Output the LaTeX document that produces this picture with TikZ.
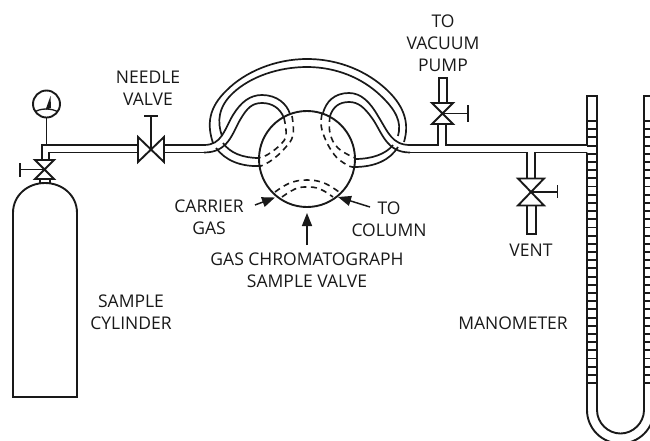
\documentclass[tikz,border=0pt]{standalone}
\usepackage{fontspec}
\setmainfont{Open Sans}
\usetikzlibrary{arrows.meta}
\tikzset{
  ln/.style={line width=1.9pt,black!90,line join=miter},
  tb/.style={line width=1.7pt,black!90},
  dsh/.style={line width=1.6pt,black!90,dash pattern=on 6pt off 4.5pt},
  arw/.style={line width=1.5pt,black!90,-{Triangle[length=13pt,width=10pt]}},
  lbl/.style={font=\fontsize{17.5}{22}\selectfont,text=black!90,inner sep=0pt,align=center},
}
\newcommand{\vvalve}[4]{% x y halfw halfh
  \draw[ln] (#1-#3,#2-#4)--(#1+#3,#2-#4)--(#1-#3,#2+#4)--(#1+#3,#2+#4)--cycle;}
\begin{document}
\begin{tikzpicture}[x=1pt,y=-1pt]
\useasboundingbox (0,0) rectangle (650,440);
\clip (0,0) rectangle (650,440);
% cylinder
\draw[ln] (13,397) -- (13,213) .. controls (13,195) and (28,183) .. (45,183) .. controls (62,183) and (77,195) .. (77,213) -- (77,397) -- cycle;
\draw[ln] (40,179) -- (40,183) (50,179) -- (50,183);
% cylinder valve
\vvalve{44.5}{169.5}{9.5}{9.5}
\draw[ln] (44.5,169.5) -- (20,169.5) (20,163) -- (20,177);
% gauge
\node[circle,draw,line width=1.9pt,black!90,minimum size=27pt,inner sep=0pt] (gauge) at (46.5,104) {};
\fill[black!90] (50.5,96) -- (45.5,110) -- (51,108) -- cycle;
\draw[line width=1.3pt,black!90] (35,112) .. controls (40,108) and (52,108) .. (58,112);
\draw[ln] (gauge.south) -- (46.5,145);
% left pipe
\draw[ln] (42,160) -- (42,145) -- (138,145);
\draw[ln] (49,160) -- (49,152.5) -- (138,152.5);
% needle valve
\draw[ln] (138,137) -- (164,162) -- (164,137) -- (138,162) -- cycle;
\draw[ln] (151,149.5) -- (151,116) (144,116) -- (158,116);
\draw[ln] (164,145) -- (204,145) (164,152.5) -- (204,152.5);
% sample valve body
\node[circle,draw,line width=1.9pt,black!90,minimum size=96pt,inner sep=0pt] (sv) at (307,159) {};
% big loop
\draw[tb] (213,143) .. controls (207,125) and (208,108) .. (227,90) .. controls (245,72) and (275,59) .. (307,59) .. controls (340,59) and (368,72) .. (387,90) .. controls (406,108) and (409,125) .. (404,142);
\draw[tb] (222,136) .. controls (217,122) and (218,107) .. (233,93) .. controls (250,77) and (278,67) .. (307,67) .. controls (336,67) and (362,78) .. (380,95) .. controls (396,110) and (402,122) .. (398,136);
% left S
\draw[tb] (204,145) .. controls (222,145) and (224,130) .. (233,115) .. controls (241,102) and (250,95) .. (262,95) .. controls (277,95) and (287,104) .. (290,114);
\draw[tb] (204,152.5) .. controls (228,152.5) and (232,134) .. (240,120) .. controls (247,108) and (252,103) .. (262,103) .. controls (272,103) and (280,108) .. (284,118);
% left lower tube
\draw[tb] (223,143) .. controls (230,153) and (243,158) .. (259,158);
\draw[tb] (216,148) .. controls (225,160) and (240,167) .. (261,166);
% right S
\draw[tb] (410,145) .. controls (392,145) and (388,132) .. (378,116) .. controls (370,102) and (361,93) .. (349,93) .. controls (334,93) and (326,102) .. (323,113);
\draw[tb] (410,152.5) .. controls (386,152.5) and (382,132) .. (372,118) .. controls (364,107) and (358,102) .. (349,102) .. controls (339,102) and (333,107) .. (330,116);
% right lower tube
\draw[tb] (393,145) .. controls (386,154) and (372,159) .. (355,159);
\draw[tb] (398,147) .. controls (390,160) and (375,167) .. (354,167);
% dashed passages
\draw[dsh] plot[smooth,tension=0.7] coordinates {(292,116) (293,135) (285,148) (272,160) (261,166)};
\draw[dsh] plot[smooth,tension=0.7] coordinates {(284,118) (286,135) (280,145) (267,155) (258,158)};
\draw[dsh] plot[smooth,tension=0.7] coordinates {(322,114) (322,130) (333,153) (347,165) (355,167)};
\draw[dsh] plot[smooth,tension=0.7] coordinates {(330,116) (330,133) (338,148) (355,158)};
\draw[dsh] plot[smooth,tension=0.7] coordinates {(275,192) (290,183) (307,180) (324,183) (339,192)};
\draw[dsh] plot[smooth,tension=0.7] coordinates {(282,197) (295,189) (307,187) (320,189) (333,197)};
% right pipe
\draw[ln] (410,145) -- (438,145) -- (438,124);
\draw[ln] (446,124) -- (446,145) -- (587,145);
\draw[ln] (410,152.5) -- (527,152.5) -- (527,178);
\draw[ln] (535,178) -- (535,152.5) -- (587,152.5);
% vacuum valve
\vvalve{442.5}{113.5}{10.5}{10.5}
\draw[ln] (442.5,113.5) -- (468,113.5) (468,105) -- (468,122);
\draw[ln] (439,103) -- (439,78) -- (447,78) -- (447,103);
% vent valve
\vvalve{531}{192}{13}{13.5}
\draw[ln] (531,192) -- (557.5,192) (557.5,185) -- (557.5,198);
\draw[ln] (527,205.5) -- (527,234) -- (536,234) -- (536,205.5);
% manometer
\draw[ln] (587,145) -- (587,96) -- (597,96) -- (597,410) .. controls (597,423) and (608,433.5) .. (620.5,433.5) .. controls (633,433.5) and (644,423) .. (644,410) -- (644,96) -- (654,96) -- (654,410);
\draw[ln] (587,152.5) -- (587,410) .. controls (587,428.5) and (602,443.5) .. (620.5,443.5) .. controls (639,443.5) and (654,428.5) .. (654,410);
\foreach \k in {0,...,32} {
  \pgfmathsetmacro{\yy}{121+8.19*\k}
  \draw[ln] (587,\yy) -- (597,\yy) (644,\yy) -- (654,\yy);
}
% arrows
\coordinate (c1) at (255,205); \coordinate (c2) at (275,197.5);
\coordinate (d1) at (370,207); \coordinate (d2) at (338,197);
\coordinate (e1) at (307,245); \coordinate (e2) at (307,213);
\draw[arw] (c1) -- (c2);
\draw[arw] (d1) -- (d2);
\draw[arw] (e1) -- (e2);
% labels
\node[lbl] (needle) at (148,88) {NEEDLE\\VALVE};
\node[lbl] (pump) at (443,43) {TO\\VACUUM\\PUMP};
\node[lbl] (carrier) at (209,217) {CARRIER\\GAS};
\node[lbl] (col) at (389,219) {TO\\COLUMN};
\node[lbl] (gc) at (307,270) {GAS CHROMATOGRAPH\\SAMPLE VALVE};
\node[lbl] (vent) at (531,250) {VENT};
\node[lbl] (mano) at (513,323) {MANOMETER};
\node[lbl] (samp) at (131,312.5) {SAMPLE\\CYLINDER};
\end{tikzpicture}
\end{document}
